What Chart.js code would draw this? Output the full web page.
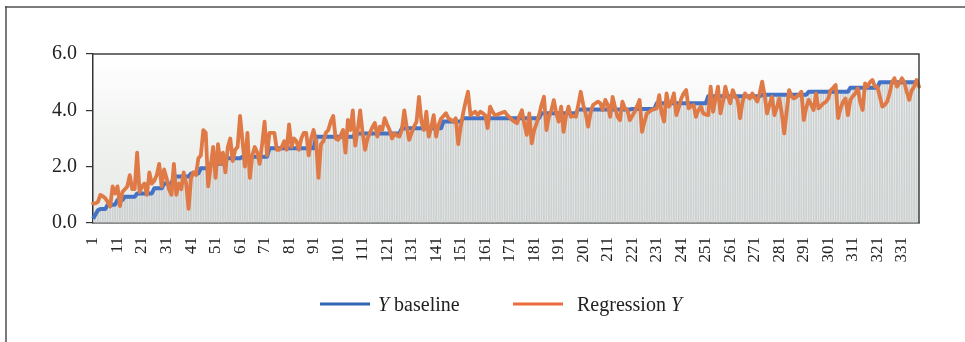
<!DOCTYPE html>
<html><head><meta charset="utf-8">
<script src="https://cdn.jsdelivr.net/npm/chart.js@4.4.1/dist/chart.umd.min.js"></script>
<style>html,body{margin:0;padding:0;background:#fff;}canvas{display:block;}</style>
</head><body>
<canvas id="c" width="965" height="342"></canvas>
<script>
const baseline = [
0.15,0.3,0.45,0.5,0.5,0.5,0.65,0.65,0.65,0.65,
0.82,0.82,0.82,0.93,0.93,0.93,0.93,0.93,1.05,1.05,
1.05,1.05,1.05,1.05,1.05,1.23,1.23,1.23,1.23,1.4,
1.4,1.4,1.4,1.65,1.65,1.65,1.65,1.65,1.65,1.65,
1.76,1.76,1.76,1.76,1.94,1.94,1.94,1.94,2.1,2.1,
2.1,2.1,2.1,2.1,2.3,2.3,2.3,2.3,2.3,2.3,
2.3,2.35,2.35,2.35,2.35,2.35,2.35,2.35,2.35,2.35,
2.35,2.35,2.65,2.65,2.65,2.65,2.65,2.65,2.65,2.65,
2.65,2.65,2.65,2.65,2.65,2.65,2.65,2.65,2.65,2.65,
2.65,3.06,3.06,3.06,3.06,3.06,3.06,3.06,3.06,3.06,
3.06,3.06,3.06,3.06,3.06,3.06,3.06,3.18,3.18,3.18,
3.18,3.18,3.18,3.18,3.18,3.18,3.18,3.18,3.18,3.18,
3.18,3.18,3.18,3.18,3.18,3.18,3.36,3.36,3.36,3.36,
3.36,3.36,3.36,3.36,3.36,3.36,3.36,3.36,3.36,3.36,
3.36,3.36,3.36,3.6,3.6,3.6,3.6,3.6,3.6,3.6,
3.6,3.72,3.72,3.72,3.72,3.72,3.72,3.72,3.72,3.72,
3.72,3.72,3.72,3.72,3.72,3.72,3.72,3.72,3.72,3.72,
3.72,3.72,3.72,3.72,3.72,3.72,3.72,3.72,3.72,3.72,
3.72,3.72,3.72,3.9,3.9,3.9,3.9,3.9,3.9,3.9,
3.9,3.9,3.9,3.9,3.9,3.9,3.9,3.9,4.03,4.03,
4.03,4.03,4.03,4.03,4.03,4.03,4.03,4.03,4.03,4.03,
4.03,4.03,4.03,4.03,4.03,4.03,4.03,4.03,4.03,4.03,
4.05,4.05,4.05,4.05,4.05,4.05,4.05,4.05,4.05,4.05,
4.25,4.25,4.25,4.25,4.25,4.25,4.25,4.25,4.25,4.25,
4.25,4.25,4.25,4.25,4.25,4.25,4.25,4.25,4.25,4.25,
4.25,4.5,4.5,4.5,4.5,4.5,4.5,4.5,4.5,4.5,
4.5,4.5,4.5,4.5,4.5,4.5,4.5,4.5,4.5,4.5,
4.5,4.5,4.5,4.55,4.55,4.55,4.55,4.55,4.55,4.55,
4.55,4.55,4.55,4.55,4.55,4.55,4.55,4.55,4.55,4.55,
4.55,4.55,4.66,4.66,4.66,4.66,4.66,4.66,4.66,4.66,
4.66,4.66,4.66,4.66,4.66,4.66,4.66,4.66,4.66,4.8,
4.8,4.8,4.8,4.8,4.8,4.8,4.8,4.8,4.8,4.8,
4.8,5.0,5.0,5.0,5.0,5.0,5.0,5.0,5.0,5.0,
5.0,5.0,5.0,5.0,5.0,5.0,5.0,5.0
];
const regression = [
0.7,0.7,0.75,1.0,0.95,0.88,0.75,0.58,1.3,1.05,
1.3,0.6,1.1,1.2,1.3,1.7,1.2,1.2,2.5,1.1,
1.3,1.4,1.0,1.8,1.4,1.5,1.7,2.1,1.3,1.9,
1.6,1.2,1.0,2.1,1.0,1.4,1.2,1.8,1.4,0.5,
1.6,1.8,1.7,2.3,2.4,3.3,3.2,1.3,2.0,2.7,
1.6,2.8,2.1,2.5,1.8,2.7,3.0,2.2,2.6,2.7,
3.8,2.9,2.0,3.2,1.6,2.4,2.7,2.5,2.1,2.8,
3.6,2.4,3.2,3.2,3.2,2.6,2.6,2.7,2.9,2.6,
3.5,2.7,3.0,2.9,2.6,3.0,3.2,3.2,2.4,3.0,
3.3,2.9,1.6,2.8,2.9,3.2,3.3,3.6,3.8,3.0,
2.95,3.1,3.3,2.5,3.66,3.3,4.0,2.75,3.3,4.0,
3.2,2.6,3.0,3.2,3.4,3.55,3.07,3.42,3.3,3.72,
3.5,3.3,3.0,3.18,3.1,3.07,3.3,4.0,3.4,2.95,
3.2,3.42,3.6,4.48,3.6,3.3,3.95,3.07,3.4,3.83,
3.07,3.48,3.7,3.8,3.9,3.72,3.66,3.6,3.72,2.8,
3.4,3.89,4.3,4.66,3.83,3.9,3.95,3.83,3.95,3.9,
3.83,3.37,4.13,3.95,3.83,3.85,3.89,3.92,3.95,3.83,
3.75,3.66,3.6,3.54,3.8,4.0,3.5,3.13,3.89,2.83,
3.3,3.54,3.83,4.2,4.48,3.3,3.77,4.0,4.36,3.9,
3.6,4.13,3.24,3.8,4.13,3.77,3.8,3.77,4.2,4.66,
4.2,3.89,3.42,3.9,4.19,4.25,4.31,4.25,4.01,4.37,
4.2,3.77,4.48,4.1,3.77,3.65,4.31,4.07,4.01,3.65,
3.8,3.95,4.15,4.37,3.24,3.6,3.89,3.95,4.01,4.05,
4.07,4.54,3.9,3.6,4.6,4.13,4.3,4.6,3.83,4.1,
4.42,4.6,4.72,4.07,4.15,4.19,3.77,4.0,4.13,3.89,
3.85,3.83,4.84,3.95,4.4,4.84,3.89,4.3,4.84,4.5,
4.25,4.72,4.5,4.37,3.72,4.3,4.6,4.5,4.42,4.6,
4.45,4.31,4.6,5.02,4.54,3.89,4.2,4.48,3.83,4.1,
4.42,3.9,3.18,3.95,4.72,4.5,4.42,4.48,4.55,4.66,
3.65,4.1,4.37,4.2,4.01,4.6,4.07,4.15,4.25,4.3,
4.42,4.72,4.8,4.9,3.72,4.07,4.3,4.42,3.83,4.37,
4.5,4.6,4.78,4.3,4.01,4.96,4.84,5.0,5.08,4.84,
4.84,4.5,4.13,4.19,4.31,4.6,5.0,5.14,4.84,4.96,
5.14,5.0,4.66,4.37,4.7,4.84,5.08,4.84
];
const categories = baseline.map((_, i) => String(i + 1));
const xLabelStep = 10;
const yTicks = [0, 2, 4, 6];
const seriesNames = ['Y baseline', 'Regression Y'];

const SERIF = '"Liberation Serif", "Times New Roman", serif';

const framePlugin = {
  id: 'frame',
  beforeDraw(chart) {
    const ctx = chart.ctx, a = chart.chartArea;
    ctx.save();
    ctx.fillStyle = '#fff';
    ctx.fillRect(0, 0, chart.width, chart.height);
    ctx.strokeStyle = '#7a7a7a'; ctx.lineWidth = 2;
    ctx.beginPath(); ctx.moveTo(6, 6); ctx.lineTo(6, chart.height); ctx.stroke();
    ctx.strokeStyle = '#505050'; ctx.lineWidth = 1.5;
    ctx.beginPath(); ctx.moveTo(5, 7); ctx.lineTo(chart.width, 7); ctx.stroke();
    const g = ctx.createLinearGradient(0, a.top, 0, a.bottom);
    g.addColorStop(0, '#ffffff');
    g.addColorStop(0.45, '#f1f3f1');
    g.addColorStop(1, '#e6e9e6');
    ctx.fillStyle = g;
    ctx.fillRect(a.left, a.top, a.right - a.left, a.bottom - a.top);
    ctx.restore();
  },
  afterDraw(chart) {
    const ctx = chart.ctx, a = chart.chartArea;
    ctx.save();
    ctx.strokeStyle = '#404040'; ctx.lineWidth = 1.5;
    ctx.beginPath(); ctx.moveTo(a.left, a.top); ctx.lineTo(a.right, a.top); ctx.lineTo(a.right, a.bottom); ctx.stroke();
    const y = 304;
    ctx.lineWidth = 3;
    ctx.strokeStyle = '#2f66b3';
    ctx.beginPath(); ctx.moveTo(320, y); ctx.lineTo(370, y); ctx.stroke();
    ctx.strokeStyle = '#ec6a3b';
    ctx.beginPath(); ctx.moveTo(513, y); ctx.lineTo(563, y); ctx.stroke();
    ctx.fillStyle = '#222';
    ctx.textBaseline = 'alphabetic';
    ctx.textAlign = 'left';
    const base = 311;
    ctx.font = 'italic 20px ' + SERIF;
    let x = 378;
    ctx.fillText('Y', x, base); x += ctx.measureText('Y').width;
    ctx.font = '20px ' + SERIF;
    ctx.fillText(seriesNames[0].slice(1), x, base);
    x = 577;
    const part = seriesNames[1].slice(0, -1);
    ctx.fillText(part, x, base); x += ctx.measureText(part).width;
    ctx.font = 'italic 20px ' + SERIF;
    ctx.fillText('Y', x, base);
    ctx.restore();
  }
};

new Chart(document.getElementById('c'), {
  type: 'bar',
  data: {
    labels: categories,
    datasets: [
      { type: 'line', label: seriesNames[1], data: regression, borderColor: '#df7945', borderWidth: 3.8, borderJoinStyle: 'round', borderCapStyle: 'round', pointRadius: 0, tension: 0, order: 0 },
      { type: 'line', label: seriesNames[0], data: baseline, borderColor: '#4472c4', borderWidth: 4, borderJoinStyle: 'round', pointRadius: 0, tension: 0, order: 1 },
      { type: 'bar', label: 'bars', data: baseline, backgroundColor: '#cdd1d1', barPercentage: 0.72, categoryPercentage: 1, order: 2 }
    ]
  },
  options: {
    responsive: false,
    devicePixelRatio: 1,
    animation: false,
    layout: { padding: { left: 0, top: 54, right: 46, bottom: 0 } },
    plugins: { legend: { display: false }, tooltip: { enabled: false } },
    scales: {
      x: {
        offset: false,
        grid: { display: true, drawOnChartArea: false, drawTicks: false, offset: false },
        border: { display: true, color: '#8c8c8c', width: 2 },
        ticks: {
          autoSkip: false, minRotation: 90, maxRotation: 90, padding: 14,
          color: '#222', font: { family: SERIF, size: 17 },
          callback: (v, i) => (i % xLabelStep === 0 ? categories[i] : '')
        },
        afterFit: s => { s.height = 119; }
      },
      y: {
        min: 0, max: 6,
        afterBuildTicks: s => { s.ticks = yTicks.map(v => ({ value: v })); },
        grid: { drawOnChartArea: false, drawTicks: true, tickLength: 7, color: '#333', lineWidth: 1.2 },
        border: { display: true, color: '#333', width: 1.5 },
        ticks: { padding: 9, color: '#222', font: { family: SERIF, size: 20 }, callback: v => Number(v).toFixed(1) },
        afterFit: s => { s.width = 93; }
      }
    }
  },
  plugins: [framePlugin]
});
</script>
</body></html>
